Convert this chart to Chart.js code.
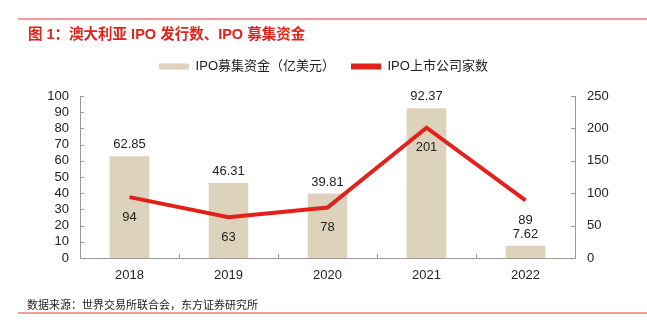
<!DOCTYPE html>
<html>
<head>
<meta charset="utf-8">
<script src="https://cdn.jsdelivr.net/npm/chart.js@4/dist/chart.umd.min.js"></script>
<style>
  html, body { margin: 0; padding: 0; background: #fff; }
  #wrap { position: relative; width: 647px; height: 329px; overflow: hidden;
          font-family: "Liberation Sans", "Noto Sans CJK SC", sans-serif; }
  #chart { position: absolute; left: 0; top: 0; }
  .rule { position: absolute; left: 18px; right: 0; height: 2px; background: #f29b98; }
  #title { position: absolute; left: 28px; top: 22px; font-size: 14.5px; font-weight: bold; color: #e0231b; white-space: nowrap; }
  #source { position: absolute; left: 27px; top: 296px; font-size: 11px; color: #222; white-space: nowrap; }
</style>
</head>
<body>
<div id="wrap">
  <canvas id="chart" width="647" height="329"></canvas>
  <div class="rule" style="top:18px"></div>
  <div id="title">图 1：澳大利亚 IPO 发行数、IPO 募集资金</div>
  <div id="source">数据来源：世界交易所联合会，东方证券研究所</div>
  <div class="rule" style="top:312px"></div>
</div>
<script>
// 年份
const categories = ['2018', '2019', '2020', '2021', '2022'];
// IPO募集资金（亿美元）
const fundsRaised = [62.85, 46.31, 39.81, 92.37, 7.62];
// IPO上市公司家数
const ipoCount = [94, 63, 78, 201, 89];
// 轴刻度
const leftAxis = { min: 0, max: 100, step: 10 };
const rightAxis = { min: 0, max: 250, step: 50 };

const FONT = '"Liberation Sans", "Noto Sans CJK SC", sans-serif';
const AXIS_COLOR = '#9a9a9a';

// 图例下方留白
const legendGap = {
  id: 'legendGap',
  beforeLayout(chart) {
    const lg = chart.legend;
    if (lg && !lg._gapWrapped) {
      const fit = lg.fit.bind(lg);
      lg.fit = function () { fit(); this.height += 13; };
      lg._gapWrapped = true;
    }
  }
};

// 数值标签 + 向内的刻度线
const labelPlugin = {
  id: 'valueLabels',
  afterDatasetsDraw(chart) {
    const ctx = chart.ctx;
    ctx.save();
    ctx.font = '13px ' + FONT;
    ctx.fillStyle = '#222';
    ctx.textAlign = 'center';

    const barMeta = chart.getDatasetMeta(0);
    ctx.textBaseline = 'bottom';
    barMeta.data.forEach((el, i) => {
      ctx.fillText(fundsRaised[i].toFixed(2), el.x, el.y - 5);
    });

    const lineMeta = chart.getDatasetMeta(1);
    ctx.textBaseline = 'middle';
    lineMeta.data.forEach((el, i) => {
      ctx.fillText(String(ipoCount[i]), el.x, el.y + 20);
    });

    // inward ticks
    const { x, y, y1 } = chart.scales;
    const area = chart.chartArea;
    ctx.strokeStyle = AXIS_COLOR;
    ctx.lineWidth = 1;
    ctx.beginPath();
    y.ticks.forEach(t => {
      const py = Math.round(y.getPixelForValue(t.value)) + 0.5;
      ctx.moveTo(area.left, py); ctx.lineTo(area.left + 4, py);
    });
    y1.ticks.forEach(t => {
      const py = Math.round(y1.getPixelForValue(t.value)) + 0.5;
      ctx.moveTo(area.right, py); ctx.lineTo(area.right - 4, py);
    });
    for (let i = 1; i < categories.length; i++) {
      const px = Math.round((x.getPixelForValue(i - 1) + x.getPixelForValue(i)) / 2) + 0.5;
      ctx.moveTo(px, area.bottom); ctx.lineTo(px, area.bottom - 4);
    }
    ctx.stroke();
    ctx.restore();
  }
};

new Chart(document.getElementById('chart'), {
  type: 'bar',
  data: {
    labels: categories,
    datasets: [
      {
        type: 'bar',
        label: 'IPO募集资金（亿美元）',
        data: fundsRaised,
        backgroundColor: '#ddd3bc',
        yAxisID: 'y',
        barPercentage: 0.4,
        categoryPercentage: 1,
        order: 1
      },
      {
        type: 'line',
        label: 'IPO上市公司家数',
        data: ipoCount,
        borderColor: '#e3211b',
        backgroundColor: '#e3211b',
        borderWidth: 4,
        pointRadius: 0,
        tension: 0,
        yAxisID: 'y1',
        order: 0
      }
    ]
  },
  options: {
    responsive: false,
    animation: false,
    layout: { padding: { top: 44, left: 0, right: 0, bottom: 0 } },
    plugins: {
      tooltip: { enabled: false },
      legend: {
        position: 'top',
        labels: {
          font: { size: 13, family: FONT },
          color: '#222',
          boxWidth: 30,
          boxHeight: 6,
          padding: 16,
          generateLabels: (chart) => chart.data.datasets.map((ds, i) => ({
            text: ds.label,
            fillStyle: ds.backgroundColor,
            strokeStyle: ds.backgroundColor,
            lineWidth: 0,
            datasetIndex: i,
            fontColor: '#222'
          }))
        }
      }
    },
    scales: {
      x: {
        grid: { display: false, drawTicks: false },
        border: { display: true, color: AXIS_COLOR },
        ticks: { font: { size: 13, family: FONT }, color: '#222', padding: 10 },
        afterFit: (s) => { s.height = 71; }
      },
      y: {
        position: 'left',
        min: leftAxis.min, max: leftAxis.max,
        grid: { display: false, drawTicks: false },
        border: { display: true, color: AXIS_COLOR },
        ticks: { stepSize: leftAxis.step, autoSkip: false, font: { size: 13, family: FONT }, color: '#222', padding: 11 },
        afterFit: (s) => { s.width = 80; }
      },
      y1: {
        position: 'right',
        min: rightAxis.min, max: rightAxis.max,
        grid: { display: false, drawTicks: false },
        border: { display: true, color: AXIS_COLOR },
        ticks: { stepSize: rightAxis.step, autoSkip: false, font: { size: 13, family: FONT }, color: '#222', padding: 12 },
        afterFit: (s) => { s.width = 72; }
      }
    }
  },
  plugins: [legendGap, labelPlugin]
});
</script>
</body>
</html>
